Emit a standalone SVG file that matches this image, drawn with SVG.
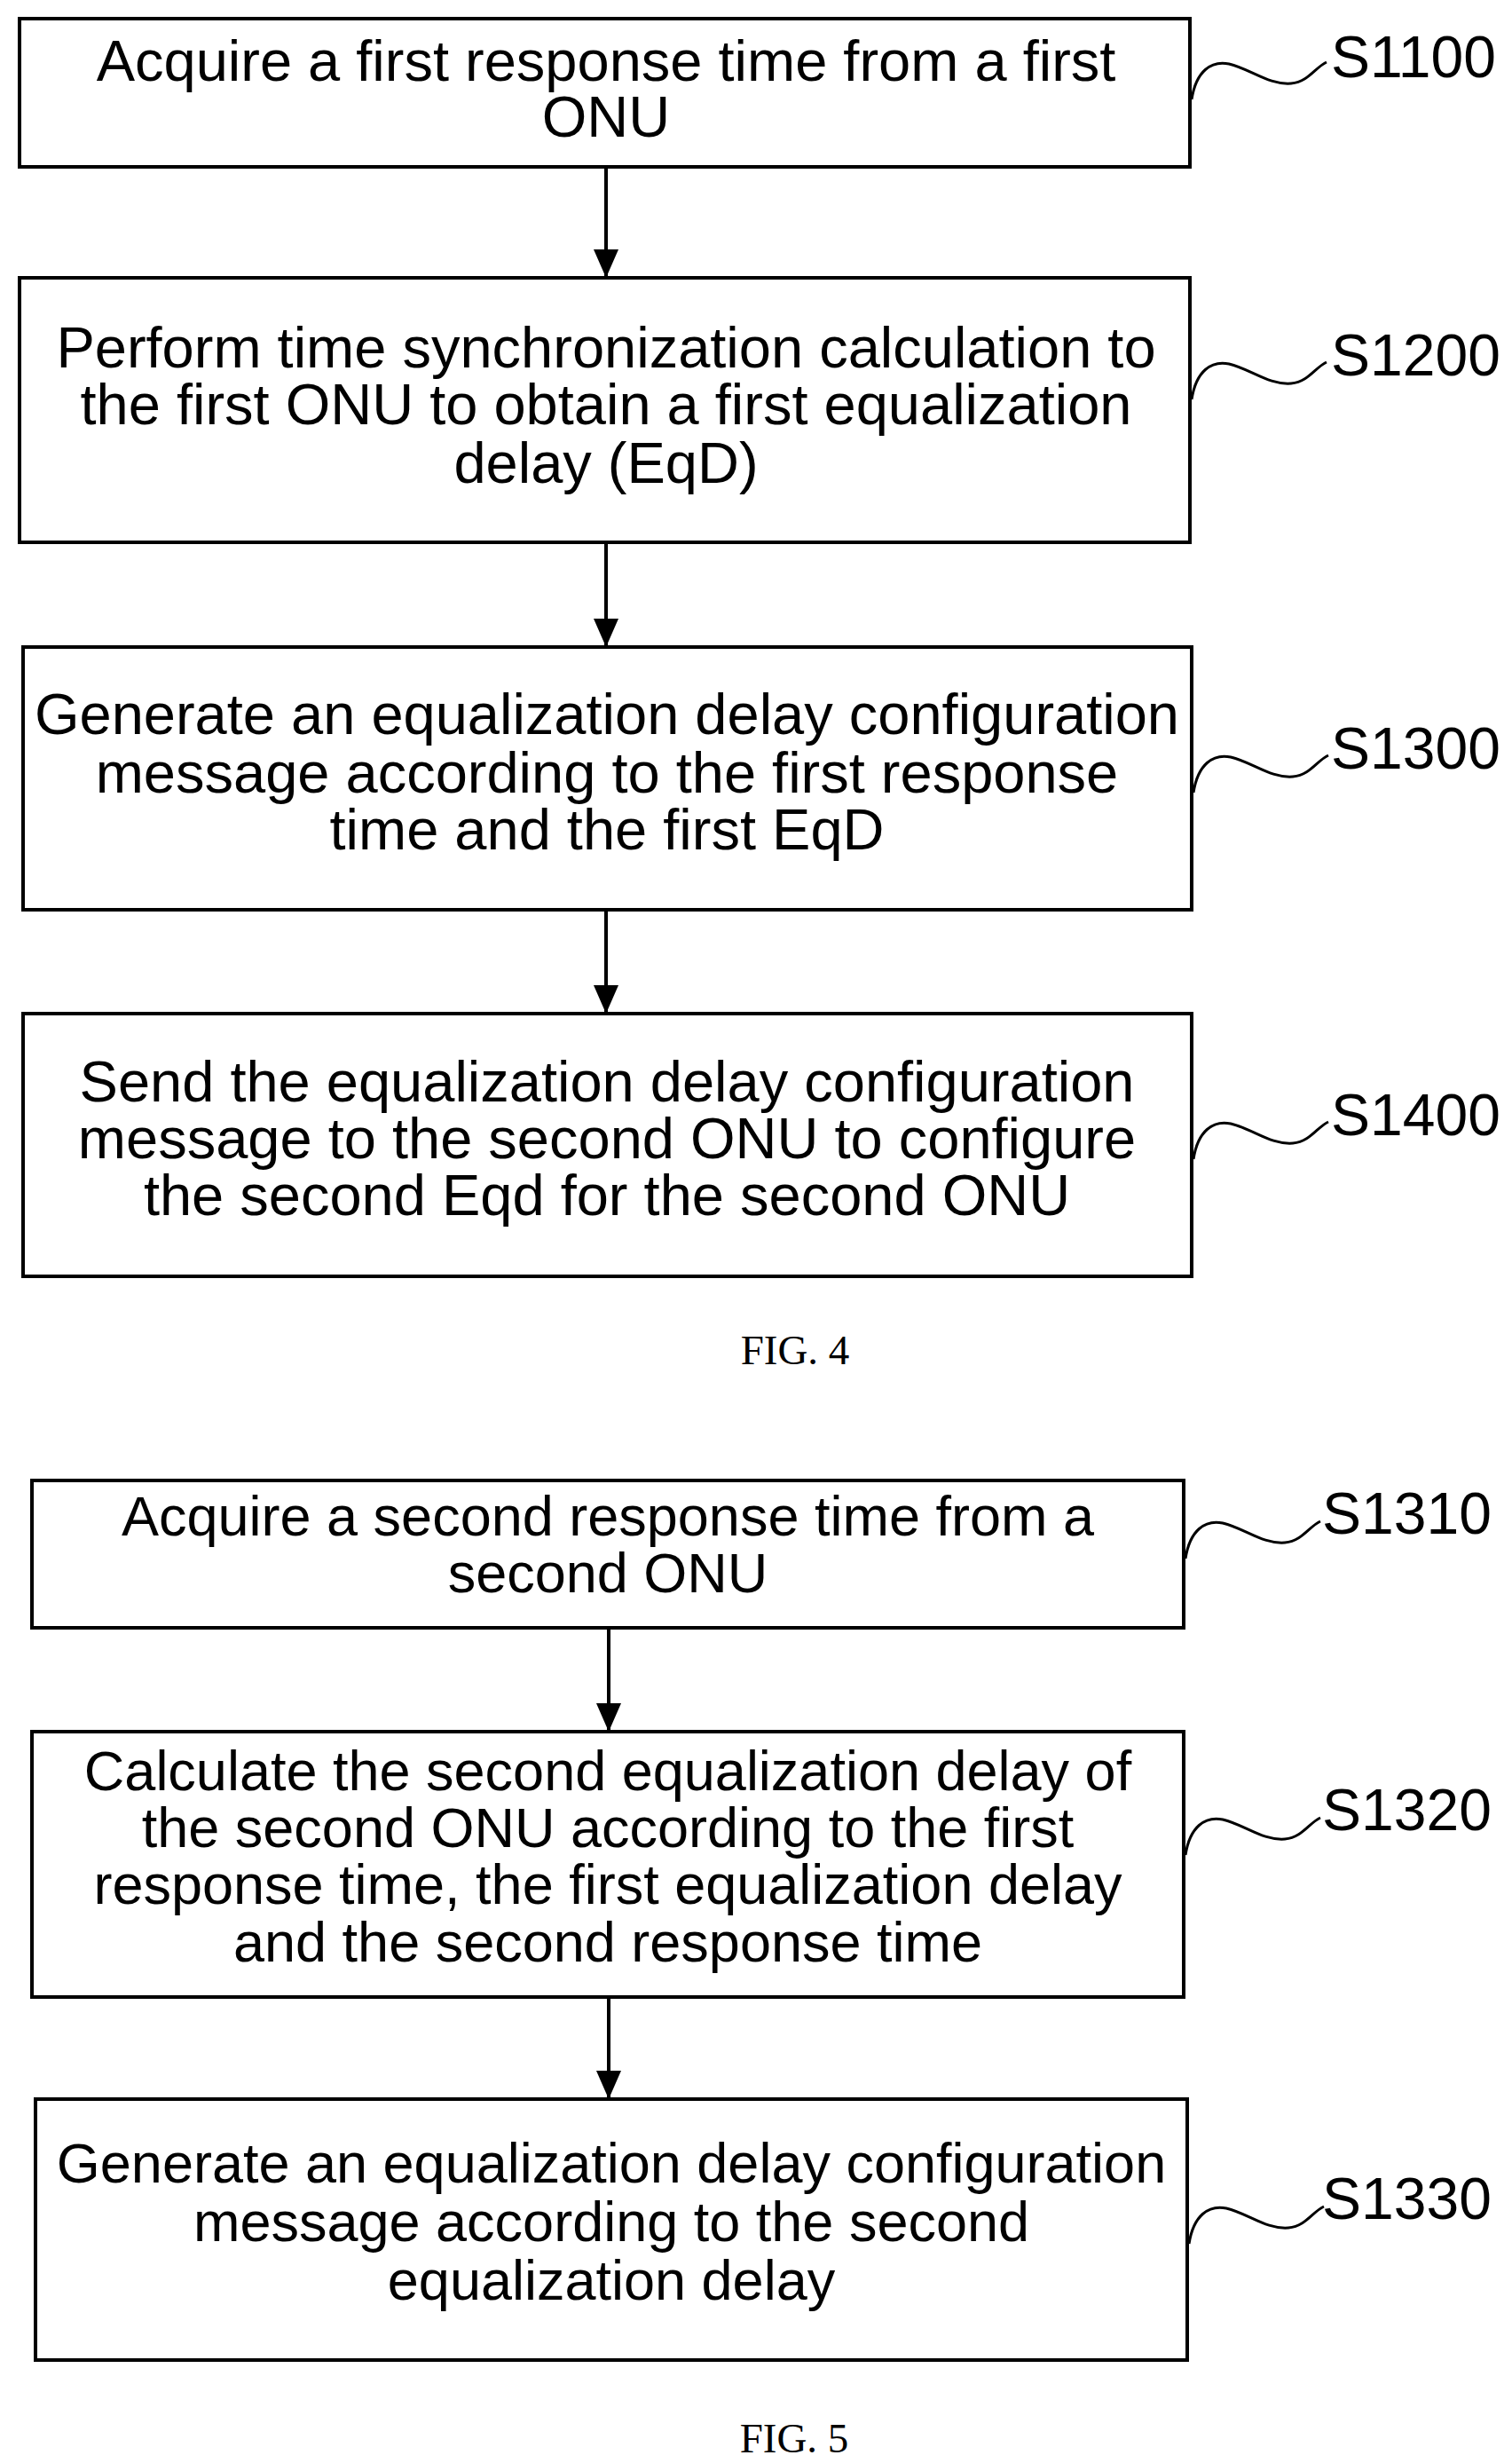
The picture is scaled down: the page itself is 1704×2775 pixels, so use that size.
<svg xmlns="http://www.w3.org/2000/svg" width="1704" height="2775" viewBox="0 0 1704 2775">
<style>
.b{fill:#fff;stroke:#000;stroke-width:4}
.t{font-family:"Liberation Sans",Arial,sans-serif;font-size:65px;text-anchor:middle;fill:#000}
.u{font-family:"Liberation Sans",Arial,sans-serif;font-size:63px;text-anchor:middle;fill:#000}
.l{font-family:"Liberation Sans",Arial,sans-serif;font-size:66px;fill:#000}
.f{font-family:"Liberation Serif","Times New Roman",serif;font-size:47px;text-anchor:middle;fill:#000}
.c{fill:none;stroke:#000;stroke-width:4}
.s{fill:none;stroke:#000;stroke-width:3}
</style>
<defs>
<marker id="ah" viewBox="0 0 32 28" refX="32" refY="14" markerWidth="32" markerHeight="28" orient="auto" markerUnits="userSpaceOnUse"><path d="M0,0 L32,14 L0,28 Z" fill="#000"/></marker></defs>
<g id="connectors">
<path class="c" d="M683,188 V313" marker-end="url(#ah)"/>
<path class="c" d="M683,611 V729" marker-end="url(#ah)"/>
<path class="c" d="M683,1025 V1142" marker-end="url(#ah)"/>
<path class="c" d="M686,1834 V1951" marker-end="url(#ah)"/>
<path class="c" d="M686,2250 V2365" marker-end="url(#ah)"/>
</g>
<g id="S1100"><rect class="b" x="22" y="21" width="1319" height="167"/>
<text class="t" x="683" y="91">Acquire a first response time from a first</text><text class="t" x="683" y="154">ONU</text>
<path class="s" d="M1343,112 C1348,80 1365,68 1385,72 C1410,78 1430,96 1455,94 C1475,92 1482,76 1495,70"/><text class="l" x="1500" y="87">S1100</text></g>
<g id="S1200"><rect class="b" x="22" y="313" width="1319" height="298"/>
<text class="t" x="683" y="414">Perform time synchronization calculation to</text><text class="t" x="683" y="478">the first ONU to obtain a first equalization</text><text class="t" x="683" y="544">delay (EqD)</text>
<path class="s" d="M1343,450 C1348,418 1365,406 1385,410 C1410,416 1430,434 1455,432 C1475,430 1482,414 1495,408"/><text class="l" x="1500" y="423">S1200</text></g>
<g id="S1300"><rect class="b" x="26" y="729" width="1317" height="296"/>
<text class="t" x="684" y="827">Generate an equalization delay configuration</text><text class="t" x="684" y="893">message according to the first response</text><text class="t" x="684" y="957">time and the first EqD</text>
<path class="s" d="M1345,893 C1350,861 1367,849 1387,853 C1412,859 1432,877 1457,875 C1477,873 1484,857 1497,851"/><text class="l" x="1500" y="866">S1300</text></g>
<g id="S1400"><rect class="b" x="26" y="1142" width="1317" height="296"/>
<text class="t" x="684" y="1241">Send the equalization delay configuration</text><text class="t" x="684" y="1305">message to the second ONU to configure</text><text class="t" x="684" y="1369">the second Eqd for the second ONU</text>
<path class="s" d="M1345,1306 C1350,1274 1367,1262 1387,1266 C1412,1272 1432,1290 1457,1288 C1477,1286 1484,1270 1497,1264"/><text class="l" x="1500" y="1279">S1400</text></g>
<text class="f" x="896" y="1537">FIG. 4</text>
<g id="S1310"><rect class="b" x="36" y="1668" width="1298" height="166"/>
<text class="u" x="685" y="1730">Acquire a second response time from a</text><text class="u" x="685" y="1794">second ONU</text>
<path class="s" d="M1336,1756 C1341,1724 1358,1712 1378,1716 C1403,1722 1423,1740 1448,1738 C1468,1736 1475,1720 1488,1714"/><text class="l" x="1490" y="1728">S1310</text></g>
<g id="S1320"><rect class="b" x="36" y="1951" width="1298" height="299"/>
<text class="u" x="685" y="2017">Calculate the second equalization delay of</text><text class="u" x="685" y="2081">the second ONU according to the first</text><text class="u" x="685" y="2145">response time, the first equalization delay</text><text class="u" x="685" y="2210">and the second response time</text>
<path class="s" d="M1336,2090 C1341,2058 1358,2046 1378,2050 C1403,2056 1423,2074 1448,2072 C1468,2070 1475,2054 1488,2048"/><text class="l" x="1490" y="2062">S1320</text></g>
<g id="S1330"><rect class="b" x="40" y="2365" width="1298" height="294"/>
<text class="u" x="689" y="2459">Generate an equalization delay configuration</text><text class="u" x="689" y="2525">message according to the second</text><text class="u" x="689" y="2591">equalization delay</text>
<path class="s" d="M1340,2528 C1345,2496 1362,2484 1382,2488 C1407,2494 1427,2512 1452,2510 C1472,2508 1479,2492 1492,2486"/><text class="l" x="1490" y="2500">S1330</text></g>
<text class="f" x="895" y="2763">FIG. 5</text>
</svg>
